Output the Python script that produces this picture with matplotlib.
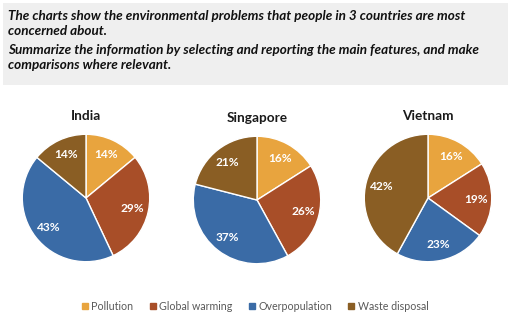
import matplotlib
matplotlib.use("Agg")
import matplotlib.pyplot as plt
from matplotlib.patches import Rectangle
from matplotlib.lines import Line2D

countries = ["India", "Singapore", "Vietnam"]
categories = ["Pollution", "Global warming", "Overpopulation", "Waste disposal"]
india = [14, 29, 43, 14]
singapore = [16, 26, 37, 21]
vietnam = [16, 19, 23, 42]
values = [india, singapore, vietnam]
colors = ["#E8A43E", "#A84E28", "#3A6BA6", "#8A5E24"]

W, H = 512, 322
fig = plt.figure(figsize=(W / 100, H / 100), dpi=100)
fig.patch.set_facecolor("white")

# header box
fig.patches.append(Rectangle((3 / W, 1 - 85 / H), 505 / W, 82 / H,
                             transform=fig.transFigure, facecolor="#efefef",
                             edgecolor="none", zorder=0))
hdr = dict(family="Lato", fontsize=9.7, fontweight="bold", style="italic",
           color="#111111", ha="left", va="baseline")
fig.text(8 / W, 1 - 20 / H, "The charts show the environmental problems that people in 3 countries are most", **hdr)
fig.text(8 / W, 1 - 35 / H, "concerned about.", **hdr)
fig.text(8 / W, 1 - 54 / H, "Summarize the information by selecting and reporting the main features, and make", **hdr)
fig.text(8 / W, 1 - 69 / H, "comparisons where relevant.", **hdr)

centers = [(86, 198), (257, 200), (428, 198)]
title_y = [116, 118, 116]
r = 65
for i, (cx, cy) in enumerate(centers):
    ax = fig.add_axes([(cx - r) / W, (H - cy - r) / H, 2 * r / W, 2 * r / H])
    wedges, texts, autotexts = ax.pie(
        values[i], colors=colors, startangle=90, counterclock=False,
        autopct="%d%%", pctdistance=0.75, radius=1,
        wedgeprops=dict(edgecolor="white", linewidth=1.0),
        textprops=dict(color="white", fontsize=8.6, fontweight="bold", family="Lato"))
    ax.set_xlim(-1.02, 1.02)
    ax.set_ylim(-1.02, 1.02)
    ax.set_aspect("equal")
    ax.axis("off")
    fig.text(cx / W, 1 - title_y[i] / H, countries[i], ha="center", va="center",
             family="Lato", fontsize=9.8, fontweight="bold", color="#1a1a1a")

handles = [Line2D([0], [0], marker="s", linestyle="none", markersize=5,
                  markerfacecolor=c, markeredgecolor=c) for c in colors]
leg = fig.legend(handles, categories, loc="center", ncol=4,
                 bbox_to_anchor=(254 / W, 1 - 306 / H), frameon=False,
                 prop=dict(family="Lato", size=7.7), labelcolor="#595959",
                 handletextpad=0.1, columnspacing=1.3, handlelength=1.0)

fig.savefig("out.png", dpi=100, facecolor="white")
